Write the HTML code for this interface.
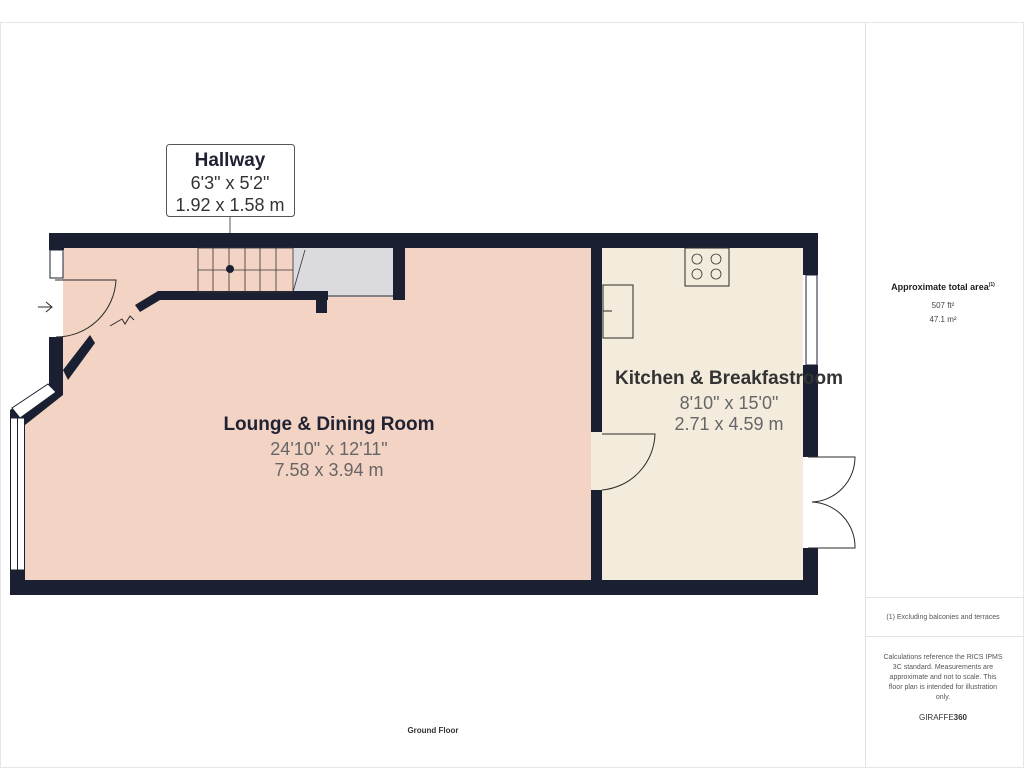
<!DOCTYPE html>
<html><head><style>
body{margin:0;background:#fff;width:1024px;height:768px;overflow:hidden;font-family:"Liberation Sans",sans-serif}
</style></head><body>
<svg width="1024" height="768" viewBox="0 0 1024 768" xmlns="http://www.w3.org/2000/svg" font-family="Liberation Sans, sans-serif">
<rect x="0.5" y="22.5" width="1023" height="745" fill="#fff" stroke="#e6e6ea"/>
<line x1="865.5" y1="22" x2="865.5" y2="768" stroke="#e2e2e6"/>
<line x1="866" y1="597.5" x2="1024" y2="597.5" stroke="#e2e2e6"/>
<line x1="866" y1="636.5" x2="1024" y2="636.5" stroke="#e2e2e6"/>
<!-- fills -->
<polygon points="64,248 591,248 591,580 25,580 25,418 63,385 63,280 64,248" fill="#f2d3c4"/>
<rect x="591" y="248" width="212" height="332" fill="#f3ecdc"/>
<rect x="293" y="248" width="100" height="49" fill="#dadadf"/>
<!-- walls -->
<g fill="#1a2032">
<rect x="49" y="233" width="769" height="15"/>
<rect x="49" y="233" width="15" height="17"/>
<rect x="10" y="580" width="808" height="15"/>
<rect x="803" y="233" width="15" height="42"/>
<rect x="803" y="365" width="15" height="92"/>
<rect x="803" y="548" width="15" height="47"/>
<rect x="591" y="248" width="11" height="184"/>
<rect x="591" y="490" width="11" height="90"/>
<rect x="49" y="337" width="14" height="48"/>
<polygon points="49,385 63,385 63,395 25,425 10,425 10,410"/>
<polygon points="63,370 90,335 95,343 68,380"/>
<rect x="10" y="570" width="15" height="25"/>
<polygon points="135,305 158,291 328,291 328,300 160,300 140,312"/>
<rect x="316" y="291" width="11" height="22"/>
<rect x="393" y="248" width="12" height="52"/>
</g>
<!-- windows -->
<rect x="50" y="250" width="13" height="28" fill="#fff" stroke="#1a2032" stroke-width="1"/>
<rect x="10.5" y="418" width="14" height="152" fill="#fff" stroke="#1a2032"/>
<line x1="17.5" y1="418" x2="17.5" y2="570" stroke="#1a2032"/>
<polygon points="12,408 48,384 56,392 20,418" fill="#fff" stroke="#1a2032"/>
<rect x="806" y="275" width="11" height="90" fill="#fff" stroke="#1a2032"/>
<!-- doors -->
<g fill="none" stroke="#2a2a2a" stroke-width="1">
<path d="M55,280 L116,280 A60,60 0 0 1 56,337"/>
<path d="M38,307 L52,307 M46,302 L52,307 L46,312"/>
<path d="M602,434 L655,434 A58,58 0 0 1 602,490"/>
<path d="M808,457 L855,457 A45,45 0 0 1 812,502 A45,45 0 0 1 855,548 L808,548"/>
<path d="M110,326 L122,319 L125,324 L130,316 L134,320"/>
<rect x="685" y="248" width="44" height="38"/>
<rect x="603" y="285" width="30" height="53"/>
<line x1="603" y1="311" x2="612" y2="311"/>
<line x1="328" y1="296" x2="393" y2="296"/>
</g>
<g fill="none" stroke="#333" stroke-width="0.8">
<circle cx="697" cy="259" r="5"/><circle cx="716" cy="259" r="5"/><circle cx="697" cy="274" r="5"/><circle cx="716" cy="274" r="5"/>
<rect x="198" y="248" width="95" height="44"/>
<line x1="198" y1="270" x2="293" y2="270"/>
<line x1="213" y1="248" x2="213" y2="292"/><line x1="229" y1="248" x2="229" y2="292"/><line x1="245" y1="248" x2="245" y2="292"/><line x1="260" y1="248" x2="260" y2="292"/><line x1="276" y1="248" x2="276" y2="292"/>
<line x1="293" y1="292" x2="305" y2="250"/>
</g>
<circle cx="230" cy="269" r="4" fill="#1a2032"/>
<!-- hallway label -->
<line x1="230" y1="216" x2="230" y2="233" stroke="#555"/>
<rect x="166.5" y="144.5" width="128" height="72" rx="3" fill="#fff" stroke="#555"/>
<text x="230" y="166" text-anchor="middle" font-size="19" font-weight="bold" fill="#1f2233">Hallway</text>
<text x="230" y="189" text-anchor="middle" font-size="18" fill="#333">6'3" x 5'2"</text>
<text x="230" y="211" text-anchor="middle" font-size="18" fill="#333">1.92 x 1.58 m</text>
<!-- room labels -->
<text x="329" y="430" text-anchor="middle" font-size="19" font-weight="bold" fill="#1f2233">Lounge &amp; Dining Room</text>
<text x="329" y="455" text-anchor="middle" font-size="18" fill="#666">24'10" x 12'11"</text>
<text x="329" y="476" text-anchor="middle" font-size="18" fill="#666">7.58 x 3.94 m</text>
<text x="729" y="384" text-anchor="middle" font-size="19" font-weight="bold" fill="#333">Kitchen &amp; Breakfastroom</text>
<text x="729" y="409" text-anchor="middle" font-size="18" fill="#666">8'10" x 15'0"</text>
<text x="729" y="430" text-anchor="middle" font-size="18" fill="#666">2.71 x 4.59 m</text>
<!-- right panel -->
<text x="943" y="290" text-anchor="middle" font-size="9" font-weight="bold" fill="#222">Approximate total area<tspan font-size="5" dy="-4">(1)</tspan></text>
<text x="943" y="308" text-anchor="middle" font-size="8" fill="#444">507 ft²</text>
<text x="943" y="322" text-anchor="middle" font-size="8" fill="#444">47.1 m²</text>
<text x="943" y="619" text-anchor="middle" font-size="7" fill="#555">(1) Excluding balconies and terraces</text>
<g font-size="7" fill="#555" text-anchor="middle">
<text x="943" y="659">Calculations reference the RICS IPMS</text>
<text x="943" y="669">3C standard. Measurements are</text>
<text x="943" y="679">approximate and not to scale. This</text>
<text x="943" y="689">floor plan is intended for illustration</text>
<text x="943" y="699">only.</text>
</g>
<text x="943" y="720" text-anchor="middle" font-size="8" fill="#333">GIRAFFE<tspan font-weight="bold">360</tspan></text>
<text x="433" y="733" text-anchor="middle" font-size="8" font-weight="bold" fill="#333">Ground Floor</text>
</svg>
</body></html>
